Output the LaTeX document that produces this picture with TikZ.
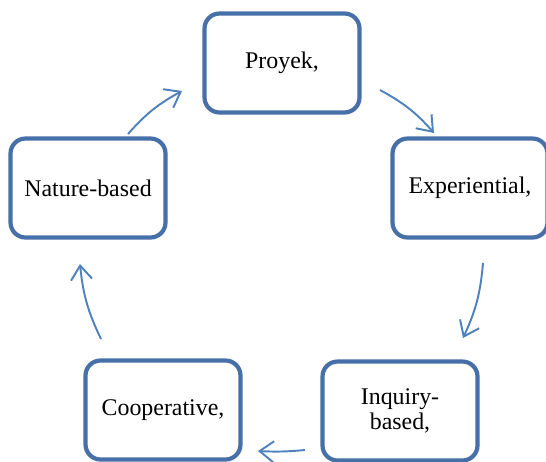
\documentclass[tikz,border=0pt]{standalone}
\usepackage{fontspec}
\setmainfont{Liberation Serif}
\usetikzlibrary{arrows.meta}
\definecolor{boxblue}{RGB}{72,112,168}
\definecolor{arrblue}{RGB}{79,129,189}
\begin{document}
\begin{tikzpicture}[x=0.02cm, y=-0.02cm,
    stage/.style={draw=boxblue, line width=2.4pt, rounded corners=0.3cm,
      minimum width=3.1cm, minimum height=1.98cm, align=center,
      font=\fontsize{13.6}{14}\selectfont},
    cycarrow/.style={draw=arrblue, line width=1.1pt,
      -{Straight Barb[length=8pt, width=12pt, line width=1.1pt]}}]
    \useasboundingbox (0, 0) rectangle (546, 461) ;
    \node[stage] (proyek) at (282, 63) {Proyek,} ;
    \node[stage] (exper) at (470, 188) {Experiential,} ;
    \node[stage] (inquiry) at (400, 411) {Inquiry-\\based,} ;
    \node[stage] (coop) at (163, 410) {Cooperative,} ;
    \node[stage] (nature) at (88, 188) {Nature-based} ;
    % arrow ends
    \coordinate (n2p) at (128, 134) ;
    \coordinate (p2n) at (182, 91) ;
    \coordinate (p2e) at (380, 90) ;
    \coordinate (e2p) at (434, 133) ;
    \coordinate (e2i) at (483, 263) ;
    \coordinate (i2e) at (463, 338) ;
    \coordinate (i2c) at (305, 450) ;
    \coordinate (c2i) at (258, 451) ;
    \coordinate (c2n) at (101, 339) ;
    \coordinate (n2c) at (80, 264) ;
    \draw[cycarrow] (n2p) to[bend left=10] (p2n) ;
    \draw[cycarrow] (p2e) to[bend left=10] (e2p) ;
    \draw[cycarrow] (e2i) to[bend left=10] (i2e) ;
    \draw[cycarrow] (i2c) to[bend left=4] (c2i) ;
    \draw[cycarrow] (c2n) to[bend left=10] (n2c) ;
\end{tikzpicture}
\end{document}
